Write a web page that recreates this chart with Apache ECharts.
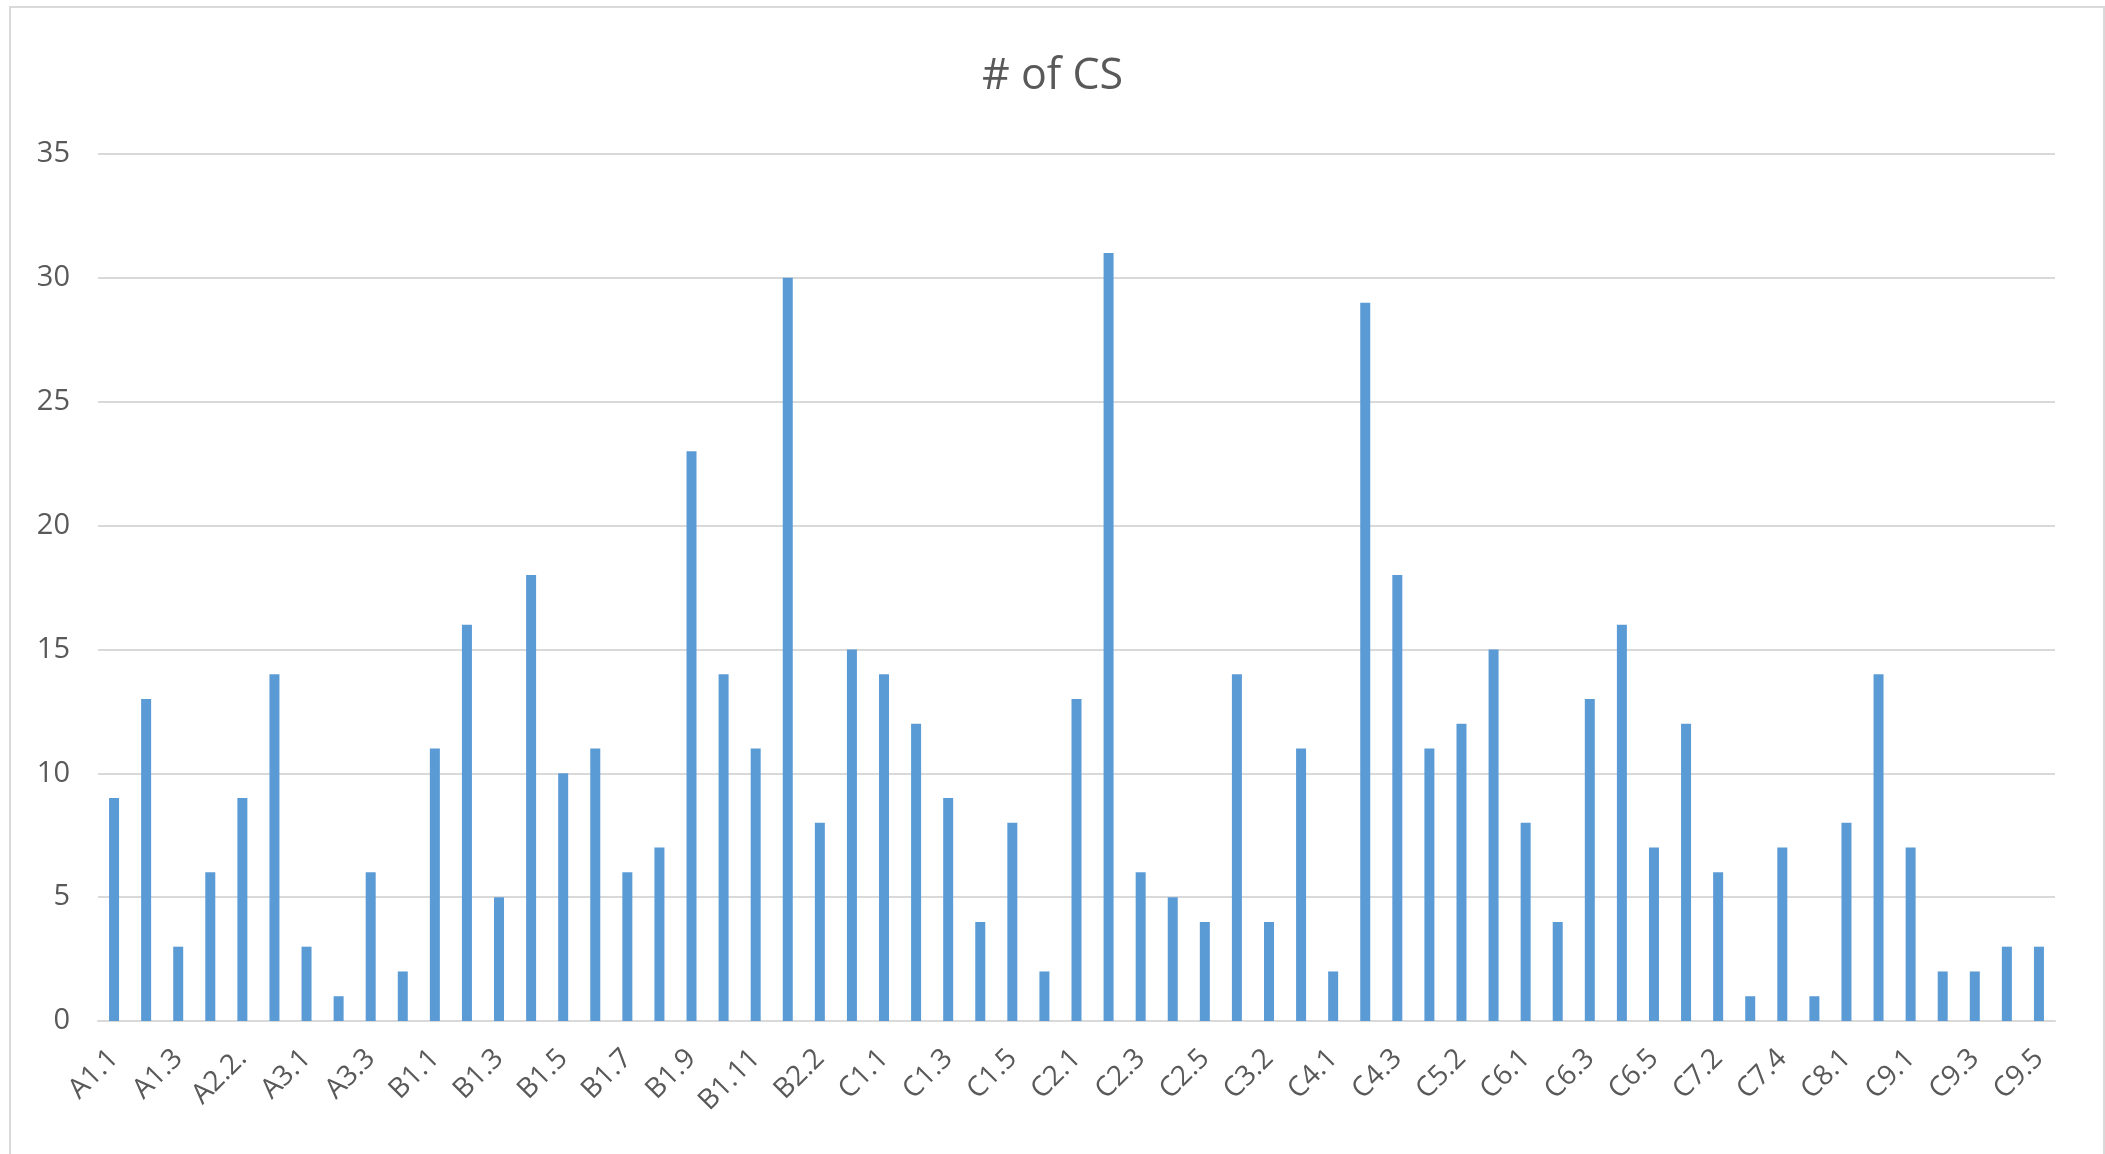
<!DOCTYPE html>
<html>
<head>
<meta charset="utf-8">
<title># of CS</title>
<script src="https://cdn.jsdelivr.net/npm/echarts@6/dist/echarts.min.js"></script>
<style>
  html, body { margin: 0; padding: 0; background: #ffffff; }
  #chart { width: 2105px; height: 1154px; }
</style>
</head>
<body>
<div id="chart"></div>
<script>
// Category codes along the x axis
const categories = [
  'A1.1', 'A1.2', 'A1.3', 'A2.1', 'A2.2.', 'A2.3', 'A3.1', 'A3.2', 'A3.3', 'A3.4',
  'B1.1', 'B1.2', 'B1.3', 'B1.4', 'B1.5', 'B1.6', 'B1.7', 'B1.8', 'B1.9', 'B1.10',
  'B1.11', 'B2.1', 'B2.2', 'B2.3', 'C1.1', 'C1.2', 'C1.3', 'C1.4', 'C1.5', 'C1.6',
  'C2.1', 'C2.2', 'C2.3', 'C2.4', 'C2.5', 'C3.1', 'C3.2', 'C3.3', 'C4.1', 'C4.2',
  'C4.3', 'C5.1', 'C5.2', 'C5.3', 'C6.1', 'C6.2', 'C6.3', 'C6.4', 'C6.5', 'C7.1',
  'C7.2', 'C7.3', 'C7.4', 'C7.5', 'C8.1', 'C8.2', 'C9.1', 'C9.2', 'C9.3', 'C9.4',
  'C9.5'
];

// Number of CS per category
const csCounts = [
  9, 13, 3, 6, 9, 14, 3, 1, 6, 2,
  11, 16, 5, 18, 10, 11, 6, 7, 23, 14,
  11, 30, 8, 15, 14, 12, 9, 4, 8, 2,
  13, 31, 6, 5, 4, 14, 4, 11, 2, 29,
  18, 11, 12, 15, 8, 4, 13, 16, 7, 12,
  6, 1, 7, 1, 8, 14, 7, 2, 2, 3,
  3
];

// Value axis ticks
const yTicks = [0, 5, 10, 15, 20, 25, 30, 35];

const chart = echarts.init(document.getElementById('chart'), null, { renderer: 'canvas' });

const textColor = '#595959';
const lineColor = '#d9d9d9';
const fontFamily = '"Open Sans", "Liberation Sans", sans-serif';

chart.setOption({
  backgroundColor: '#ffffff',
  animation: false,
  title: {
    text: '# of CS',
    left: 'center',
    top: 50,
    textStyle: {
      color: textColor,
      fontFamily: fontFamily,
      fontSize: 43,
      fontWeight: 'normal'
    }
  },
  graphic: [{
    type: 'rect',
    shape: { x: 10, y: 7, width: 2094, height: 1150 },
    style: { fill: 'none', stroke: '#d9d9d9', lineWidth: 2 },
    silent: true,
    z: 100
  }],
  grid: {
    left: 98,
    right: 50,
    top: 154,
    bottom: 1154 - 1021
  },
  xAxis: {
    type: 'category',
    data: categories,
    axisLine: { show: true, lineStyle: { color: lineColor, width: 2 } },
    axisTick: { show: false },
    axisLabel: {
      interval: 1,
      rotate: 45,
      margin: 33,
      color: textColor,
      fontFamily: fontFamily,
      fontSize: 28
    },
    splitLine: { show: false }
  },
  yAxis: {
    type: 'value',
    min: yTicks[0],
    max: yTicks[yTicks.length - 1],
    interval: yTicks[1] - yTicks[0],
    axisLine: { show: false },
    axisTick: { show: false },
    axisLabel: {
      margin: 28,
      color: textColor,
      fontFamily: fontFamily,
      fontSize: 29
    },
    splitLine: { show: true, lineStyle: { color: lineColor, width: 2 } }
  },
  series: [{
    name: '# of CS',
    type: 'bar',
    data: csCounts,
    barWidth: 10,
    itemStyle: { color: '#5b9bd5' }
  }]
});
</script>
</body>
</html>
